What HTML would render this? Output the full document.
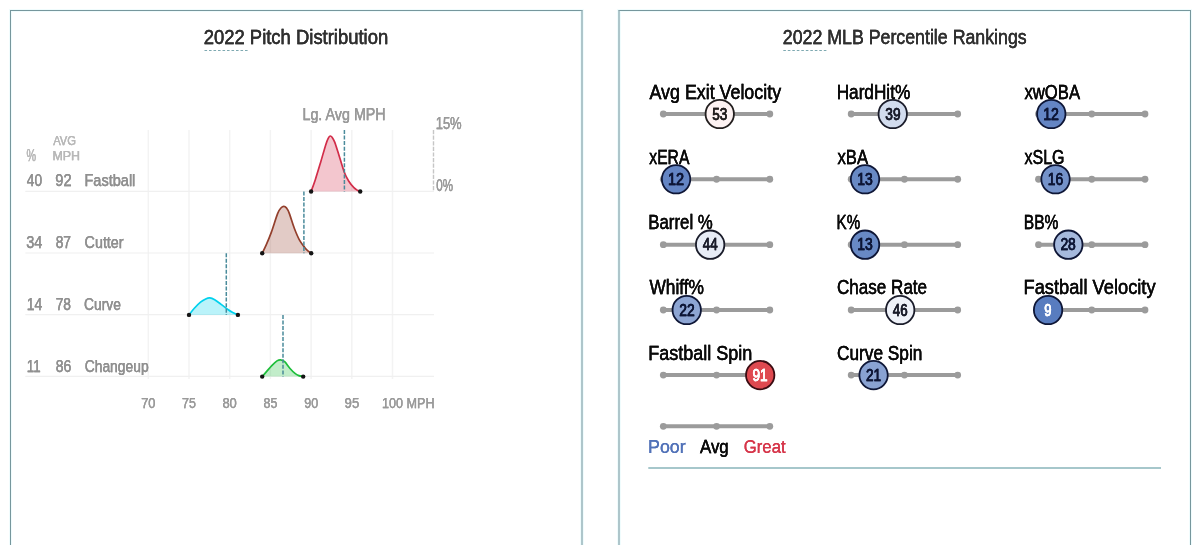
<!DOCTYPE html>
<html lang="en">
<head>
<meta charset="utf-8">
<title>Pitch Distribution and MLB Percentile Rankings</title>
<style>
html,body{margin:0;padding:0;background:#fff}
body{width:1200px;height:545px;overflow:hidden;position:relative;font-family:"Liberation Sans",sans-serif}
.panel{position:absolute;top:10px;height:560px;background:#fff;box-sizing:content-box;border-top:1px solid #76979d;box-shadow:0 0 0 1px #f0fcfd,inset 0 0 0 1px #f0fcfd}
.panel svg{position:absolute;left:0;top:0;display:block;overflow:visible}
svg text{font-family:"Liberation Sans",sans-serif;white-space:pre}
#pitch-distribution{left:10px;width:570px;border-left:1px solid #76979d;border-right:2px solid #aec6cb}
#percentile-rankings{left:618px;width:570px;border-left:2px solid #aec6cb;border-right:1px solid #76979d}
</style>
</head>
<body>
<div class="panel" id="pitch-distribution">
<svg width="570" height="534" viewBox="0 0 570 534">
<line x1="193.50" y1="39.50" x2="238.50" y2="39.50" stroke="#6f9fa8" stroke-width="0.9" stroke-dasharray="2.6 1.9"/>
<g stroke="#f3f3f3" stroke-width="1.5" fill="none"><line x1="137.30" y1="119.00" x2="137.30" y2="368.00"/><line x1="178.00" y1="119.00" x2="178.00" y2="368.00"/><line x1="218.70" y1="119.00" x2="218.70" y2="368.00"/><line x1="259.40" y1="119.00" x2="259.40" y2="368.00"/><line x1="300.10" y1="119.00" x2="300.10" y2="368.00"/><line x1="340.80" y1="119.00" x2="340.80" y2="368.00"/><line x1="381.50" y1="119.00" x2="381.50" y2="368.00"/><line x1="14.30" y1="180.30" x2="423.00" y2="180.30" stroke="#f0f0f0" stroke-width="1.2"/><line x1="14.30" y1="242.00" x2="423.00" y2="242.00" stroke="#f0f0f0" stroke-width="1.2"/><line x1="14.30" y1="303.70" x2="423.00" y2="303.70" stroke="#f0f0f0" stroke-width="1.2"/><line x1="14.30" y1="365.40" x2="423.00" y2="365.40" stroke="#f0f0f0" stroke-width="1.2"/></g>
<line x1="422.50" y1="119.00" x2="422.50" y2="180.50" stroke="#c6c6c6" stroke-width="1.4" stroke-dasharray="4.2 1.4"/>
<path d="M300.10,180.50 C300.82,178.48 302.83,173.20 304.40,168.40 C305.97,163.60 307.78,157.45 309.50,151.70 C311.22,145.95 313.42,137.95 314.70,133.90 C315.98,129.85 316.45,128.88 317.20,127.40 C317.95,125.92 318.52,125.13 319.20,125.00 C319.88,124.87 320.55,125.58 321.30,126.60 C322.05,127.62 322.67,128.42 323.70,131.10 C324.73,133.78 325.90,137.67 327.50,142.70 C329.10,147.73 331.58,156.70 333.30,161.30 C335.02,165.90 336.20,167.73 337.80,170.30 C339.40,172.87 341.48,175.22 342.90,176.70 C344.32,178.18 345.25,178.57 346.30,179.20 C347.35,179.83 348.72,180.28 349.20,180.50 Z" fill="#d22d49" fill-opacity="0.27" stroke="none"/>
<path d="M300.10,180.50 C300.82,178.48 302.83,173.20 304.40,168.40 C305.97,163.60 307.78,157.45 309.50,151.70 C311.22,145.95 313.42,137.95 314.70,133.90 C315.98,129.85 316.45,128.88 317.20,127.40 C317.95,125.92 318.52,125.13 319.20,125.00 C319.88,124.87 320.55,125.58 321.30,126.60 C322.05,127.62 322.67,128.42 323.70,131.10 C324.73,133.78 325.90,137.67 327.50,142.70 C329.10,147.73 331.58,156.70 333.30,161.30 C335.02,165.90 336.20,167.73 337.80,170.30 C339.40,172.87 341.48,175.22 342.90,176.70 C344.32,178.18 345.25,178.57 346.30,179.20 C347.35,179.83 348.72,180.28 349.20,180.50" fill="none" stroke="#d22d49" stroke-width="1.7" stroke-linecap="round" stroke-linejoin="round"/>
<path d="M251.20,242.20 C251.85,240.87 253.58,237.67 255.10,234.20 C256.62,230.73 258.37,226.70 260.30,221.40 C262.23,216.10 265.05,206.52 266.70,202.40 C268.35,198.28 269.17,197.88 270.20,196.70 C271.23,195.52 271.98,195.27 272.85,195.30 C273.72,195.33 274.51,195.77 275.40,196.90 C276.29,198.03 276.87,198.67 278.20,202.10 C279.53,205.53 281.68,213.00 283.40,217.50 C285.12,222.00 286.78,225.95 288.50,229.10 C290.22,232.25 292.25,234.55 293.70,236.40 C295.15,238.25 296.12,239.23 297.20,240.20 C298.28,241.17 299.70,241.87 300.20,242.20 Z" fill="#933f2c" fill-opacity="0.27" stroke="none"/>
<path d="M251.20,242.20 C251.85,240.87 253.58,237.67 255.10,234.20 C256.62,230.73 258.37,226.70 260.30,221.40 C262.23,216.10 265.05,206.52 266.70,202.40 C268.35,198.28 269.17,197.88 270.20,196.70 C271.23,195.52 271.98,195.27 272.85,195.30 C273.72,195.33 274.51,195.77 275.40,196.90 C276.29,198.03 276.87,198.67 278.20,202.10 C279.53,205.53 281.68,213.00 283.40,217.50 C285.12,222.00 286.78,225.95 288.50,229.10 C290.22,232.25 292.25,234.55 293.70,236.40 C295.15,238.25 296.12,239.23 297.20,240.20 C298.28,241.17 299.70,241.87 300.20,242.20" fill="none" stroke="#933f2c" stroke-width="1.7" stroke-linecap="round" stroke-linejoin="round"/>
<path d="M178.00,303.90 C178.85,302.83 181.18,299.63 183.10,297.50 C185.02,295.37 187.57,292.70 189.50,291.10 C191.43,289.50 193.15,288.60 194.70,287.90 C196.25,287.20 197.30,286.75 198.80,286.90 C200.30,287.05 201.82,287.72 203.70,288.80 C205.58,289.88 207.97,291.83 210.10,293.40 C212.23,294.97 214.57,296.85 216.50,298.20 C218.43,299.55 219.97,300.55 221.70,301.50 C223.43,302.45 226.03,303.50 226.90,303.90 Z" fill="#00d1ed" fill-opacity="0.27" stroke="none"/>
<path d="M178.00,303.90 C178.85,302.83 181.18,299.63 183.10,297.50 C185.02,295.37 187.57,292.70 189.50,291.10 C191.43,289.50 193.15,288.60 194.70,287.90 C196.25,287.20 197.30,286.75 198.80,286.90 C200.30,287.05 201.82,287.72 203.70,288.80 C205.58,289.88 207.97,291.83 210.10,293.40 C212.23,294.97 214.57,296.85 216.50,298.20 C218.43,299.55 219.97,300.55 221.70,301.50 C223.43,302.45 226.03,303.50 226.90,303.90" fill="none" stroke="#00d1ed" stroke-width="1.7" stroke-linecap="round" stroke-linejoin="round"/>
<path d="M251.20,365.60 C251.95,364.73 254.10,362.23 255.70,360.40 C257.30,358.57 259.08,356.35 260.80,354.60 C262.52,352.85 264.53,350.87 266.00,349.90 C267.47,348.93 268.32,348.67 269.60,348.80 C270.88,348.93 272.17,349.30 273.70,350.70 C275.23,352.10 277.08,355.25 278.80,357.20 C280.52,359.15 282.50,361.17 284.00,362.40 C285.50,363.63 286.43,364.07 287.80,364.60 C289.17,365.13 291.47,365.43 292.20,365.60 Z" fill="#1dbe3a" fill-opacity="0.27" stroke="none"/>
<path d="M251.20,365.60 C251.95,364.73 254.10,362.23 255.70,360.40 C257.30,358.57 259.08,356.35 260.80,354.60 C262.52,352.85 264.53,350.87 266.00,349.90 C267.47,348.93 268.32,348.67 269.60,348.80 C270.88,348.93 272.17,349.30 273.70,350.70 C275.23,352.10 277.08,355.25 278.80,357.20 C280.52,359.15 282.50,361.17 284.00,362.40 C285.50,363.63 286.43,364.07 287.80,364.60 C289.17,365.13 291.47,365.43 292.20,365.60" fill="none" stroke="#1dbe3a" stroke-width="1.7" stroke-linecap="round" stroke-linejoin="round"/>
<line x1="333.40" y1="119.00" x2="333.40" y2="180.50" stroke="#4a8b9b" stroke-width="1.5" stroke-dasharray="4 1.55"/>
<line x1="292.90" y1="180.50" x2="292.90" y2="242.20" stroke="#4a8b9b" stroke-width="1.5" stroke-dasharray="4 1.55"/>
<line x1="215.30" y1="242.20" x2="215.30" y2="303.90" stroke="#4a8b9b" stroke-width="1.5" stroke-dasharray="4 1.55"/>
<line x1="272.00" y1="303.90" x2="272.00" y2="365.60" stroke="#4a8b9b" stroke-width="1.5" stroke-dasharray="4 1.55"/>
<circle cx="300.10" cy="180.50" r="2.2" fill="#151515"/><circle cx="349.20" cy="180.50" r="2.2" fill="#151515"/>
<circle cx="251.20" cy="242.20" r="2.2" fill="#151515"/><circle cx="300.20" cy="242.20" r="2.2" fill="#151515"/>
<circle cx="178.00" cy="303.90" r="2.2" fill="#151515"/><circle cx="226.90" cy="303.90" r="2.2" fill="#151515"/>
<circle cx="251.20" cy="365.60" r="2.2" fill="#151515"/><circle cx="292.20" cy="365.60" r="2.2" fill="#151515"/>
<text x="192.72" y="33.10" font-size="20.3" fill="#303030" stroke="#303030" stroke-width="0.3" style="filter:drop-shadow(0.6px 0 0 #303030)" textLength="184.47" lengthAdjust="spacingAndGlyphs">2022 Pitch Distribution</text>
<text x="15.60" y="149.90" font-size="17" fill="#b8b8b8" stroke="#b8b8b8" stroke-width="0.25" style="filter:drop-shadow(0.4px 0 0 #b8b8b8)" textLength="9.57" lengthAdjust="spacingAndGlyphs">%</text>
<text x="42.15" y="133.70" font-size="13" fill="#b8b8b8" stroke="#b8b8b8" stroke-width="0.25" style="filter:drop-shadow(0.4px 0 0 #b8b8b8)" textLength="22.87" lengthAdjust="spacingAndGlyphs">AVG</text>
<text x="41.41" y="149.20" font-size="13" fill="#b8b8b8" stroke="#b8b8b8" stroke-width="0.25" style="filter:drop-shadow(0.4px 0 0 #b8b8b8)" textLength="27.70" lengthAdjust="spacingAndGlyphs">MPH</text>
<text x="15.79" y="175.30" font-size="16.3" fill="#909090" stroke="#909090" stroke-width="0.25" style="filter:drop-shadow(0.4px 0 0 #909090)" textLength="15.28" lengthAdjust="spacingAndGlyphs">40</text>
<text x="44.28" y="175.30" font-size="16.3" fill="#909090" stroke="#909090" stroke-width="0.25" style="filter:drop-shadow(0.4px 0 0 #909090)" textLength="16.30" lengthAdjust="spacingAndGlyphs">92</text>
<text x="73.46" y="175.30" font-size="16.3" fill="#909090" stroke="#909090" stroke-width="0.25" style="filter:drop-shadow(0.4px 0 0 #909090)" textLength="50.90" lengthAdjust="spacingAndGlyphs">Fastball</text>
<text x="15.13" y="237.00" font-size="16.3" fill="#909090" stroke="#909090" stroke-width="0.25" style="filter:drop-shadow(0.4px 0 0 #909090)" textLength="16.17" lengthAdjust="spacingAndGlyphs">34</text>
<text x="44.68" y="237.00" font-size="16.3" fill="#909090" stroke="#909090" stroke-width="0.25" style="filter:drop-shadow(0.4px 0 0 #909090)" textLength="15.34" lengthAdjust="spacingAndGlyphs">87</text>
<text x="73.57" y="237.00" font-size="16.3" fill="#909090" stroke="#909090" stroke-width="0.25" style="filter:drop-shadow(0.4px 0 0 #909090)" textLength="39.04" lengthAdjust="spacingAndGlyphs">Cutter</text>
<text x="15.69" y="298.70" font-size="16.3" fill="#909090" stroke="#909090" stroke-width="0.25" style="filter:drop-shadow(0.4px 0 0 #909090)" textLength="15.60" lengthAdjust="spacingAndGlyphs">14</text>
<text x="44.71" y="298.70" font-size="16.3" fill="#909090" stroke="#909090" stroke-width="0.25" style="filter:drop-shadow(0.4px 0 0 #909090)" textLength="15.34" lengthAdjust="spacingAndGlyphs">78</text>
<text x="73.07" y="298.70" font-size="16.3" fill="#909090" stroke="#909090" stroke-width="0.25" style="filter:drop-shadow(0.4px 0 0 #909090)" textLength="36.92" lengthAdjust="spacingAndGlyphs">Curve</text>
<text x="15.71" y="360.50" font-size="16.3" fill="#909090" stroke="#909090" stroke-width="0.25" style="filter:drop-shadow(0.4px 0 0 #909090)" textLength="13.84" lengthAdjust="spacingAndGlyphs">11</text>
<text x="44.64" y="360.50" font-size="16.3" fill="#909090" stroke="#909090" stroke-width="0.25" style="filter:drop-shadow(0.4px 0 0 #909090)" textLength="15.57" lengthAdjust="spacingAndGlyphs">86</text>
<text x="73.66" y="360.50" font-size="16.3" fill="#909090" stroke="#909090" stroke-width="0.25" style="filter:drop-shadow(0.4px 0 0 #909090)" textLength="64.00" lengthAdjust="spacingAndGlyphs">Changeup</text>
<text x="291.43" y="108.50" font-size="16.2" fill="#9a9a9a" stroke="#9a9a9a" stroke-width="0.25" style="filter:drop-shadow(0.4px 0 0 #9a9a9a)" textLength="83.30" lengthAdjust="spacingAndGlyphs">Lg. Avg MPH</text>
<text x="424.66" y="118.40" font-size="15.7" fill="#9a9a9a" stroke="#9a9a9a" stroke-width="0.25" style="filter:drop-shadow(0.4px 0 0 #9a9a9a)" textLength="26.02" lengthAdjust="spacingAndGlyphs">15%</text>
<text x="425.19" y="180.20" font-size="15.7" fill="#9a9a9a" stroke="#9a9a9a" stroke-width="0.25" style="filter:drop-shadow(0.4px 0 0 #9a9a9a)" textLength="16.78" lengthAdjust="spacingAndGlyphs">0%</text>
<text x="130.24" y="396.70" font-size="15" fill="#9a9a9a" stroke="#9a9a9a" stroke-width="0.25" style="filter:drop-shadow(0.4px 0 0 #9a9a9a)" textLength="14.28" lengthAdjust="spacingAndGlyphs">70</text>
<text x="171.02" y="396.70" font-size="15" fill="#9a9a9a" stroke="#9a9a9a" stroke-width="0.25" style="filter:drop-shadow(0.4px 0 0 #9a9a9a)" textLength="13.84" lengthAdjust="spacingAndGlyphs">75</text>
<text x="211.40" y="396.70" font-size="15" fill="#9a9a9a" stroke="#9a9a9a" stroke-width="0.25" style="filter:drop-shadow(0.4px 0 0 #9a9a9a)" textLength="14.42" lengthAdjust="spacingAndGlyphs">80</text>
<text x="252.49" y="396.70" font-size="15" fill="#9a9a9a" stroke="#9a9a9a" stroke-width="0.25" style="filter:drop-shadow(0.4px 0 0 #9a9a9a)" textLength="13.84" lengthAdjust="spacingAndGlyphs">85</text>
<text x="293.19" y="396.70" font-size="15" fill="#9a9a9a" stroke="#9a9a9a" stroke-width="0.25" style="filter:drop-shadow(0.4px 0 0 #9a9a9a)" textLength="13.98" lengthAdjust="spacingAndGlyphs">90</text>
<text x="333.58" y="396.70" font-size="15" fill="#9a9a9a" stroke="#9a9a9a" stroke-width="0.25" style="filter:drop-shadow(0.4px 0 0 #9a9a9a)" textLength="14.69" lengthAdjust="spacingAndGlyphs">95</text>
<text x="370.96" y="396.80" font-size="15" fill="#9a9a9a" stroke="#9a9a9a" stroke-width="0.25" style="filter:drop-shadow(0.4px 0 0 #9a9a9a)" textLength="52.62" lengthAdjust="spacingAndGlyphs">100 MPH</text>
</svg>
</div>
<div class="panel" id="percentile-rankings">
<svg width="570" height="534" viewBox="0 0 570 534">
<line x1="163.30" y1="39.50" x2="208.30" y2="39.50" stroke="#6f9fa8" stroke-width="0.9" stroke-dasharray="2.6 1.9"/>
<text x="29.52" y="87.60" font-size="20.6" fill="#0a0a0a" stroke="#0a0a0a" stroke-width="0.3" style="filter:drop-shadow(0.6px 0 0 #0a0a0a)" textLength="131.53" lengthAdjust="spacingAndGlyphs">Avg Exit Velocity</text>
<text x="216.63" y="87.60" font-size="20.6" fill="#0a0a0a" stroke="#0a0a0a" stroke-width="0.3" style="filter:drop-shadow(0.6px 0 0 #0a0a0a)" textLength="73.65" lengthAdjust="spacingAndGlyphs">HardHit%</text>
<text x="404.48" y="87.60" font-size="20.6" fill="#0a0a0a" stroke="#0a0a0a" stroke-width="0.3" style="filter:drop-shadow(0.6px 0 0 #0a0a0a)" textLength="55.58" lengthAdjust="spacingAndGlyphs">xwOBA</text>
<text x="29.35" y="152.80" font-size="20.6" fill="#0a0a0a" stroke="#0a0a0a" stroke-width="0.3" style="filter:drop-shadow(0.6px 0 0 #0a0a0a)" textLength="40.00" lengthAdjust="spacingAndGlyphs">xERA</text>
<text x="217.50" y="152.80" font-size="20.6" fill="#0a0a0a" stroke="#0a0a0a" stroke-width="0.3" style="filter:drop-shadow(0.6px 0 0 #0a0a0a)" textLength="30.60" lengthAdjust="spacingAndGlyphs">xBA</text>
<text x="404.47" y="152.80" font-size="20.6" fill="#0a0a0a" stroke="#0a0a0a" stroke-width="0.3" style="filter:drop-shadow(0.6px 0 0 #0a0a0a)" textLength="40.02" lengthAdjust="spacingAndGlyphs">xSLG</text>
<text x="28.27" y="218.20" font-size="20.6" fill="#0a0a0a" stroke="#0a0a0a" stroke-width="0.3" style="filter:drop-shadow(0.6px 0 0 #0a0a0a)" textLength="64.55" lengthAdjust="spacingAndGlyphs">Barrel %</text>
<text x="216.62" y="218.20" font-size="20.6" fill="#0a0a0a" stroke="#0a0a0a" stroke-width="0.3" style="filter:drop-shadow(0.6px 0 0 #0a0a0a)" textLength="23.56" lengthAdjust="spacingAndGlyphs">K%</text>
<text x="403.75" y="218.20" font-size="20.6" fill="#0a0a0a" stroke="#0a0a0a" stroke-width="0.3" style="filter:drop-shadow(0.6px 0 0 #0a0a0a)" textLength="34.62" lengthAdjust="spacingAndGlyphs">BB%</text>
<text x="29.40" y="283.30" font-size="20.6" fill="#0a0a0a" stroke="#0a0a0a" stroke-width="0.3" style="filter:drop-shadow(0.6px 0 0 #0a0a0a)" textLength="54.58" lengthAdjust="spacingAndGlyphs">Whiff%</text>
<text x="217.04" y="283.30" font-size="20.6" fill="#0a0a0a" stroke="#0a0a0a" stroke-width="0.3" style="filter:drop-shadow(0.6px 0 0 #0a0a0a)" textLength="90.06" lengthAdjust="spacingAndGlyphs">Chase Rate</text>
<text x="403.50" y="283.30" font-size="20.6" fill="#0a0a0a" stroke="#0a0a0a" stroke-width="0.3" style="filter:drop-shadow(0.6px 0 0 #0a0a0a)" textLength="132.05" lengthAdjust="spacingAndGlyphs">Fastball Velocity</text>
<text x="28.23" y="348.50" font-size="20.6" fill="#0a0a0a" stroke="#0a0a0a" stroke-width="0.3" style="filter:drop-shadow(0.6px 0 0 #0a0a0a)" textLength="104.13" lengthAdjust="spacingAndGlyphs">Fastball Spin</text>
<text x="216.91" y="348.50" font-size="20.6" fill="#0a0a0a" stroke="#0a0a0a" stroke-width="0.3" style="filter:drop-shadow(0.6px 0 0 #0a0a0a)" textLength="85.46" lengthAdjust="spacingAndGlyphs">Curve Spin</text>
<g><line x1="43.30" y1="103.00" x2="149.80" y2="103.00" stroke="#9b9b9b" stroke-width="4"/><circle cx="43.30" cy="103.00" r="3.4" fill="#9b9b9b"/><circle cx="96.55" cy="103.00" r="3.4" fill="#9b9b9b"/><circle cx="149.80" cy="103.00" r="3.4" fill="#9b9b9b"/></g>
<circle cx="99.75" cy="103.00" r="14.2" fill="#fdf2f2" stroke="#221e1e" stroke-width="1.8"/>
<text x="92.18" y="108.70" font-size="16" fill="#221e1e" stroke="#221e1e" stroke-width="0.5" style="filter:drop-shadow(0.55px 0 0 #221e1e)" textLength="15.06" lengthAdjust="spacingAndGlyphs">53</text>
<g><line x1="231.20" y1="103.00" x2="337.70" y2="103.00" stroke="#9b9b9b" stroke-width="4"/><circle cx="231.20" cy="103.00" r="3.4" fill="#9b9b9b"/><circle cx="284.45" cy="103.00" r="3.4" fill="#9b9b9b"/><circle cx="337.70" cy="103.00" r="3.4" fill="#9b9b9b"/></g>
<circle cx="272.74" cy="103.00" r="14.2" fill="#d2dcee" stroke="#1a1c2a" stroke-width="1.8"/>
<text x="265.34" y="108.70" font-size="16" fill="#1a1c2a" stroke="#1a1c2a" stroke-width="0.5" style="filter:drop-shadow(0.55px 0 0 #1a1c2a)" textLength="15.26" lengthAdjust="spacingAndGlyphs">39</text>
<g><line x1="418.50" y1="103.00" x2="525.00" y2="103.00" stroke="#9b9b9b" stroke-width="4"/><circle cx="418.50" cy="103.00" r="3.4" fill="#9b9b9b"/><circle cx="471.75" cy="103.00" r="3.4" fill="#9b9b9b"/><circle cx="525.00" cy="103.00" r="3.4" fill="#9b9b9b"/></g>
<circle cx="431.28" cy="103.00" r="14.2" fill="#6485c4" stroke="#0e1636" stroke-width="1.8"/>
<text x="423.21" y="108.70" font-size="16" fill="#0e1636" stroke="#0e1636" stroke-width="0.5" style="filter:drop-shadow(0.55px 0 0 #0e1636)" textLength="15.73" lengthAdjust="spacingAndGlyphs">12</text>
<g><line x1="43.30" y1="168.25" x2="149.80" y2="168.25" stroke="#9b9b9b" stroke-width="4"/><circle cx="43.30" cy="168.25" r="3.4" fill="#9b9b9b"/><circle cx="96.55" cy="168.25" r="3.4" fill="#9b9b9b"/><circle cx="149.80" cy="168.25" r="3.4" fill="#9b9b9b"/></g>
<circle cx="56.08" cy="168.25" r="14.2" fill="#6485c4" stroke="#0e1636" stroke-width="1.8"/>
<text x="47.93" y="173.95" font-size="16" fill="#0e1636" stroke="#0e1636" stroke-width="0.5" style="filter:drop-shadow(0.55px 0 0 #0e1636)" textLength="16.07" lengthAdjust="spacingAndGlyphs">12</text>
<g><line x1="231.20" y1="168.25" x2="337.70" y2="168.25" stroke="#9b9b9b" stroke-width="4"/><circle cx="231.20" cy="168.25" r="3.4" fill="#9b9b9b"/><circle cx="284.45" cy="168.25" r="3.4" fill="#9b9b9b"/><circle cx="337.70" cy="168.25" r="3.4" fill="#9b9b9b"/></g>
<circle cx="245.05" cy="168.25" r="14.2" fill="#6889c5" stroke="#0e1636" stroke-width="1.8"/>
<text x="237.31" y="173.95" font-size="16" fill="#0e1636" stroke="#0e1636" stroke-width="0.5" style="filter:drop-shadow(0.55px 0 0 #0e1636)" textLength="15.51" lengthAdjust="spacingAndGlyphs">13</text>
<g><line x1="418.50" y1="168.25" x2="525.00" y2="168.25" stroke="#9b9b9b" stroke-width="4"/><circle cx="418.50" cy="168.25" r="3.4" fill="#9b9b9b"/><circle cx="471.75" cy="168.25" r="3.4" fill="#9b9b9b"/><circle cx="525.00" cy="168.25" r="3.4" fill="#9b9b9b"/></g>
<circle cx="435.54" cy="168.25" r="14.2" fill="#7492ca" stroke="#0e1636" stroke-width="1.8"/>
<text x="427.72" y="173.95" font-size="16" fill="#0e1636" stroke="#0e1636" stroke-width="0.5" style="filter:drop-shadow(0.55px 0 0 #0e1636)" textLength="15.45" lengthAdjust="spacingAndGlyphs">16</text>
<g><line x1="43.30" y1="233.70" x2="149.80" y2="233.70" stroke="#9b9b9b" stroke-width="4"/><circle cx="43.30" cy="233.70" r="3.4" fill="#9b9b9b"/><circle cx="96.55" cy="233.70" r="3.4" fill="#9b9b9b"/><circle cx="149.80" cy="233.70" r="3.4" fill="#9b9b9b"/></g>
<circle cx="90.16" cy="233.70" r="14.2" fill="#e7ecf6" stroke="#1a1c2a" stroke-width="1.8"/>
<text x="82.82" y="239.40" font-size="16" fill="#1a1c2a" stroke="#1a1c2a" stroke-width="0.5" style="filter:drop-shadow(0.55px 0 0 #1a1c2a)" textLength="14.82" lengthAdjust="spacingAndGlyphs">44</text>
<g><line x1="231.20" y1="233.70" x2="337.70" y2="233.70" stroke="#9b9b9b" stroke-width="4"/><circle cx="231.20" cy="233.70" r="3.4" fill="#9b9b9b"/><circle cx="284.45" cy="233.70" r="3.4" fill="#9b9b9b"/><circle cx="337.70" cy="233.70" r="3.4" fill="#9b9b9b"/></g>
<circle cx="245.05" cy="233.70" r="14.2" fill="#6889c5" stroke="#0e1636" stroke-width="1.8"/>
<text x="237.31" y="239.40" font-size="16" fill="#0e1636" stroke="#0e1636" stroke-width="0.5" style="filter:drop-shadow(0.55px 0 0 #0e1636)" textLength="15.51" lengthAdjust="spacingAndGlyphs">13</text>
<g><line x1="418.50" y1="233.70" x2="525.00" y2="233.70" stroke="#9b9b9b" stroke-width="4"/><circle cx="418.50" cy="233.70" r="3.4" fill="#9b9b9b"/><circle cx="471.75" cy="233.70" r="3.4" fill="#9b9b9b"/><circle cx="525.00" cy="233.70" r="3.4" fill="#9b9b9b"/></g>
<circle cx="448.32" cy="233.70" r="14.2" fill="#a5b9dd" stroke="#0e1636" stroke-width="1.8"/>
<text x="440.38" y="239.40" font-size="16" fill="#0e1636" stroke="#0e1636" stroke-width="0.5" style="filter:drop-shadow(0.55px 0 0 #0e1636)" textLength="15.45" lengthAdjust="spacingAndGlyphs">28</text>
<g><line x1="43.30" y1="299.00" x2="149.80" y2="299.00" stroke="#9b9b9b" stroke-width="4"/><circle cx="43.30" cy="299.00" r="3.4" fill="#9b9b9b"/><circle cx="96.55" cy="299.00" r="3.4" fill="#9b9b9b"/><circle cx="149.80" cy="299.00" r="3.4" fill="#9b9b9b"/></g>
<circle cx="66.73" cy="299.00" r="14.2" fill="#8da5d3" stroke="#0e1636" stroke-width="1.8"/>
<text x="59.24" y="304.70" font-size="16" fill="#0e1636" stroke="#0e1636" stroke-width="0.5" style="filter:drop-shadow(0.55px 0 0 #0e1636)" textLength="15.47" lengthAdjust="spacingAndGlyphs">22</text>
<g><line x1="231.20" y1="299.00" x2="337.70" y2="299.00" stroke="#9b9b9b" stroke-width="4"/><circle cx="231.20" cy="299.00" r="3.4" fill="#9b9b9b"/><circle cx="284.45" cy="299.00" r="3.4" fill="#9b9b9b"/><circle cx="337.70" cy="299.00" r="3.4" fill="#9b9b9b"/></g>
<circle cx="280.19" cy="299.00" r="14.2" fill="#eff2f9" stroke="#1a1c2a" stroke-width="1.8"/>
<text x="272.86" y="304.70" font-size="16" fill="#1a1c2a" stroke="#1a1c2a" stroke-width="0.5" style="filter:drop-shadow(0.55px 0 0 #1a1c2a)" textLength="14.86" lengthAdjust="spacingAndGlyphs">46</text>
<g><line x1="418.50" y1="299.00" x2="525.00" y2="299.00" stroke="#9b9b9b" stroke-width="4"/><circle cx="418.50" cy="299.00" r="3.4" fill="#9b9b9b"/><circle cx="471.75" cy="299.00" r="3.4" fill="#9b9b9b"/><circle cx="525.00" cy="299.00" r="3.4" fill="#9b9b9b"/></g>
<circle cx="428.09" cy="299.00" r="14.2" fill="#587cbf" stroke="#0e1636" stroke-width="1.8"/>
<text x="424.34" y="304.70" font-size="16" fill="#ffffff" stroke="#ffffff" stroke-width="0.5" style="filter:drop-shadow(0.55px 0 0 #ffffff)" textLength="7.26" lengthAdjust="spacingAndGlyphs">9</text>
<g><line x1="43.30" y1="364.10" x2="149.80" y2="364.10" stroke="#9b9b9b" stroke-width="4"/><circle cx="43.30" cy="364.10" r="3.4" fill="#9b9b9b"/><circle cx="96.55" cy="364.10" r="3.4" fill="#9b9b9b"/><circle cx="149.80" cy="364.10" r="3.4" fill="#9b9b9b"/></g>
<circle cx="140.21" cy="364.10" r="14.2" fill="#df4950" stroke="#3a0c12" stroke-width="1.8"/>
<text x="132.45" y="369.80" font-size="16" fill="#ffffff" stroke="#ffffff" stroke-width="0.5" style="filter:drop-shadow(0.55px 0 0 #ffffff)" textLength="15.16" lengthAdjust="spacingAndGlyphs">91</text>
<g><line x1="231.20" y1="364.10" x2="337.70" y2="364.10" stroke="#9b9b9b" stroke-width="4"/><circle cx="231.20" cy="364.10" r="3.4" fill="#9b9b9b"/><circle cx="284.45" cy="364.10" r="3.4" fill="#9b9b9b"/><circle cx="337.70" cy="364.10" r="3.4" fill="#9b9b9b"/></g>
<circle cx="253.57" cy="364.10" r="14.2" fill="#89a2d2" stroke="#0e1636" stroke-width="1.8"/>
<text x="245.97" y="369.80" font-size="16" fill="#0e1636" stroke="#0e1636" stroke-width="0.5" style="filter:drop-shadow(0.55px 0 0 #0e1636)" textLength="15.17" lengthAdjust="spacingAndGlyphs">21</text>
<g><line x1="43.30" y1="415.30" x2="149.80" y2="415.30" stroke="#9b9b9b" stroke-width="4"/><circle cx="43.30" cy="415.30" r="3.4" fill="#9b9b9b"/><circle cx="96.55" cy="415.30" r="3.4" fill="#9b9b9b"/><circle cx="149.80" cy="415.30" r="3.4" fill="#9b9b9b"/></g>
<rect x="28.30" y="456.00" width="512.70" height="2" fill="#a6c7cb"/>
<text x="162.81" y="33.10" font-size="20.3" fill="#303030" stroke="#303030" stroke-width="0.3" style="filter:drop-shadow(0.6px 0 0 #303030)" textLength="243.89" lengthAdjust="spacingAndGlyphs">2022 MLB Percentile Rankings</text>
<text x="28.09" y="441.60" font-size="19" fill="#5272b8" stroke="#5272b8" stroke-width="0.15" style="filter:drop-shadow(0.3px 0 0 #5272b8)" textLength="37.61" lengthAdjust="spacingAndGlyphs">Poor</text>
<text x="80.05" y="441.60" font-size="19" fill="#0a0a0a" stroke="#0a0a0a" stroke-width="0.3" style="filter:drop-shadow(0.6px 0 0 #0a0a0a)" textLength="28.67" lengthAdjust="spacingAndGlyphs">Avg</text>
<text x="123.85" y="441.60" font-size="19" fill="#d6364a" stroke="#d6364a" stroke-width="0.15" style="filter:drop-shadow(0.3px 0 0 #d6364a)" textLength="41.70" lengthAdjust="spacingAndGlyphs">Great</text>
</svg>
</div>
</body>
</html>
